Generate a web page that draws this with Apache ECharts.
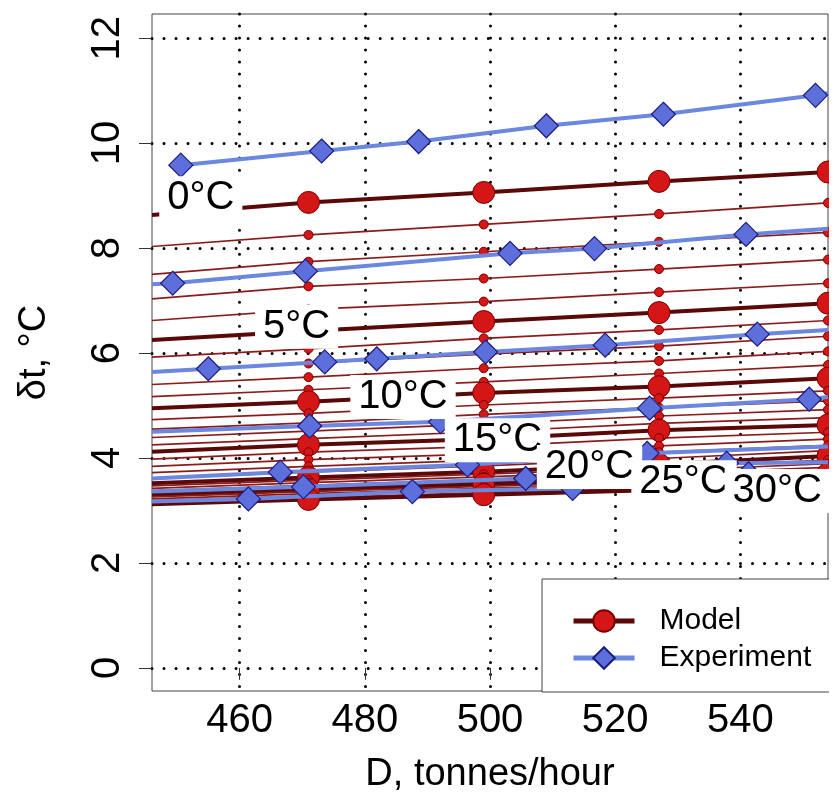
<!DOCTYPE html>
<html><head><meta charset="utf-8">
<script src="https://cdn.jsdelivr.net/npm/echarts@6/dist/echarts.min.js"></script>
<style>html,body{margin:0;padding:0;background:#fff;} #c{width:829px;height:794px;}</style>
</head><body><div id="c"></div>
<script>
// ---------- data ----------
const xTicks = [460, 480, 500, 520, 540];
const yTicks = [0, 2, 4, 6, 8, 10, 12];
const temps = [0,1,2,3,4,5,6,7,8,9,10,11,12,13,14,15,16,17,18,19,20,21,22,23,24,25,26,27,28,29,30];
const modelX = [471, 499, 527, 554];
const lineStartX = 446;
const lineEndX = 554;
// model curves: value at the left edge and at each model x
const modelAtStart = [8.63,8.03,7.50,7.03,6.62,6.25,5.92,5.65,5.40,5.17,4.95,4.73,4.55,4.39,4.25,4.12,3.98,3.84,3.72,3.61,3.52,3.47,3.42,3.38,3.34,3.30,3.26,3.22,3.19,3.15,3.12];
const modelAt471 = [8.87,8.25,7.74,7.27,6.83,6.42,6.08,5.80,5.54,5.30,5.07,4.85,4.67,4.51,4.37,4.25,4.11,3.97,3.84,3.73,3.63,3.58,3.53,3.48,3.44,3.40,3.36,3.32,3.28,3.24,3.21];
const modelAt499 = [9.06,8.45,7.93,7.42,6.98,6.60,6.28,5.98,5.71,5.45,5.24,5.01,4.83,4.65,4.50,4.36,4.22,4.08,3.96,3.85,3.74,3.69,3.64,3.59,3.54,3.50,3.46,3.42,3.38,3.34,3.30];
const modelAt527 = [9.27,8.65,8.12,7.60,7.16,6.77,6.44,6.13,5.85,5.61,5.36,5.14,4.96,4.80,4.66,4.53,4.38,4.23,4.11,3.99,3.88,3.82,3.76,3.70,3.65,3.60,3.56,3.51,3.47,3.43,3.39];
const modelAt554 = [9.45,8.86,8.30,7.78,7.33,6.95,6.62,6.32,6.03,5.77,5.52,5.28,5.09,4.92,4.77,4.63,4.49,4.36,4.24,4.14,4.04,3.96,3.89,3.82,3.76,3.70,3.65,3.61,3.56,3.52,3.48];

// experiment series (diamonds) with line end values at the plot edges
const exp0X  = [450.6, 473.1, 488.6, 509.0, 527.7, 552.0];
const exp0Y  = [9.58, 9.85, 10.03, 10.33, 10.55, 10.91];
const exp0Ends = [null, 10.95];
const exp5X  = [449.3, 470.5, 503.2, 516.7, 540.9];
const exp5Y  = [7.33, 7.56, 7.90, 7.99, 8.26];
const exp5Ends = [7.31, 8.37];
const exp10X = [455.0, 473.6, 481.9, 499.3, 518.4, 542.7];
const exp10Y = [5.70, 5.83, 5.89, 6.02, 6.15, 6.36];
const exp10Ends = [5.64, 6.44];
const exp15X = [471.2, 492.1, 525.5, 551.0];
const exp15Y = [4.61, 4.69, 4.95, 5.12];
const exp15Ends = [4.50, 5.16];
const exp20X = [466.5, 496.4, 525.1];
const exp20Y = [3.73, 3.87, 4.09];
const exp20Ends = [3.61, 4.22];
const exp25X = [470.2, 505.7, 537.8];
const exp25Y = [3.45, 3.61, 3.90];
const exp25Ends = [3.36, 3.92];
const exp30X = [461.4, 487.6, 513.2, 541.3];
const exp30Y = [3.22, 3.36, 3.42, 3.70];
const exp30Ends = [3.17, 3.74];

// isotherm labels: text and where they sit
const tempLabels = ['0°C', '5°C', '10°C', '15°C', '20°C', '25°C', '30°C'];
const tempLabelAt = [[453.8, 8.95], [469.1, 6.50], [486.1, 5.16], [501.2, 4.34], [515.9, 3.83], [531.0, 3.54], [545.9, 3.37]];

// ---------- chart ----------
const FONT = 'Liberation Sans, Arial, sans-serif';
const modelCols = [modelAt471, modelAt499, modelAt527, modelAt554];

const series = [];
temps.forEach((t, i) => {
  const thick = t % 5 === 0;
  const data = [{ value: [lineStartX, modelAtStart[i]], symbol: 'none' }];
  modelX.forEach((x, k) => data.push([x, modelCols[k][i]]));
  series.push({
    name: 'Model', type: 'line', z: 2, data,
    symbol: 'circle', symbolSize: thick ? 22 : 9, showAllSymbol: true,
    lineStyle: { color: thick ? '#5a0808' : '#8b1c1c', width: thick ? 4 : 1.7 },
    itemStyle: { color: '#d41616', borderColor: '#7a0000', borderWidth: 1 },
    emphasis: { disabled: true }, silent: true
  });
});

const exps = [
  [exp0X, exp0Y, exp0Ends], [exp5X, exp5Y, exp5Ends], [exp10X, exp10Y, exp10Ends],
  [exp15X, exp15Y, exp15Ends], [exp20X, exp20Y, exp20Ends], [exp25X, exp25Y, exp25Ends],
  [exp30X, exp30Y, exp30Ends]
];
exps.forEach(([xs, ys, ends]) => {
  const data = [];
  if (ends[0] != null) data.push({ value: [lineStartX, ends[0]], symbol: 'none' });
  xs.forEach((x, k) => data.push([x, ys[k]]));
  if (ends[1] != null) data.push({ value: [lineEndX, ends[1]], symbol: 'none' });
  series.push({
    name: 'Experiment', type: 'line', z: 3, data,
    symbol: 'diamond', symbolSize: 24, showAllSymbol: true,
    lineStyle: { color: '#6b87e0', width: 4 },
    itemStyle: { color: '#5c6fda', borderColor: '#1c1c80', borderWidth: 1.2 },
    emphasis: { disabled: true }, silent: true
  });
});

series.push({
  name: 'labels', type: 'scatter', z: 20, silent: true,
  symbolSize: 1, itemStyle: { color: 'rgba(0,0,0,0)', opacity: 1 },
  data: tempLabelAt.map((p, i) => ({ value: p, label: { formatter: tempLabels[i] } })),
  label: { show: true, position: 'inside', fontSize: 40, fontFamily: FONT, color: '#000',
           backgroundColor: '#fff', padding: [2, 8], opacity: 1 }
});

const dotted = { color: '#000', type: [0.01, 12], width: 3, cap: 'round' };

const chart = echarts.init(document.getElementById('c'), null, { renderer: 'canvas' });
chart.setOption({
  animation: false,
  backgroundColor: '#fff',
  grid: { left: 152, right: 1, top: 14, bottom: 103, show: true, borderColor: '#444', borderWidth: 1,
          outerBoundsMode: 'none', containLabel: false },
  xAxis: {
    type: 'value', min: 446, max: 554, splitNumber: 5,
    axisLine: { show: false },
    axisTick: { show: true, length: 12, customValues: xTicks, lineStyle: { color: '#333', width: 1 } },
    axisLabel: { customValues: xTicks, fontSize: 40, margin: 10, color: '#000', fontFamily: FONT },
    splitLine: { show: true, lineStyle: dotted },
    name: 'D, tonnes/hour', nameLocation: 'middle', nameGap: 65,
    nameTextStyle: { fontSize: 38, color: '#000', fontFamily: FONT }
  },
  yAxis: {
    type: 'value', min: -0.44, max: 12.46, splitNumber: 6,
    axisLine: { show: false },
    axisTick: { show: true, length: 13, customValues: yTicks, lineStyle: { color: '#333', width: 1 } },
    axisLabel: { customValues: yTicks, fontSize: 40, margin: 24, rotate: 90, color: '#000', fontFamily: FONT },
    splitLine: { show: true, lineStyle: dotted },
    name: 'δt, °C', nameLocation: 'middle', nameGap: 98, nameRotate: 90,
    nameTextStyle: { fontSize: 38, color: '#000', fontFamily: FONT }
  },
  legend: {
    data: ['Model', 'Experiment'], orient: 'vertical', left: 542, top: 579,
    padding: [27, 19, 19, 29], itemWidth: 61, itemHeight: 27, itemGap: 7,
    backgroundColor: '#fff', borderColor: '#444', borderWidth: 1, borderRadius: 0,
    lineStyle: { width: 5 },
    textStyle: { fontSize: 30, color: '#000', fontFamily: FONT, padding: [0, 0, 0, 20] },
    selectedMode: false
  },
  series
});
</script></body></html>
